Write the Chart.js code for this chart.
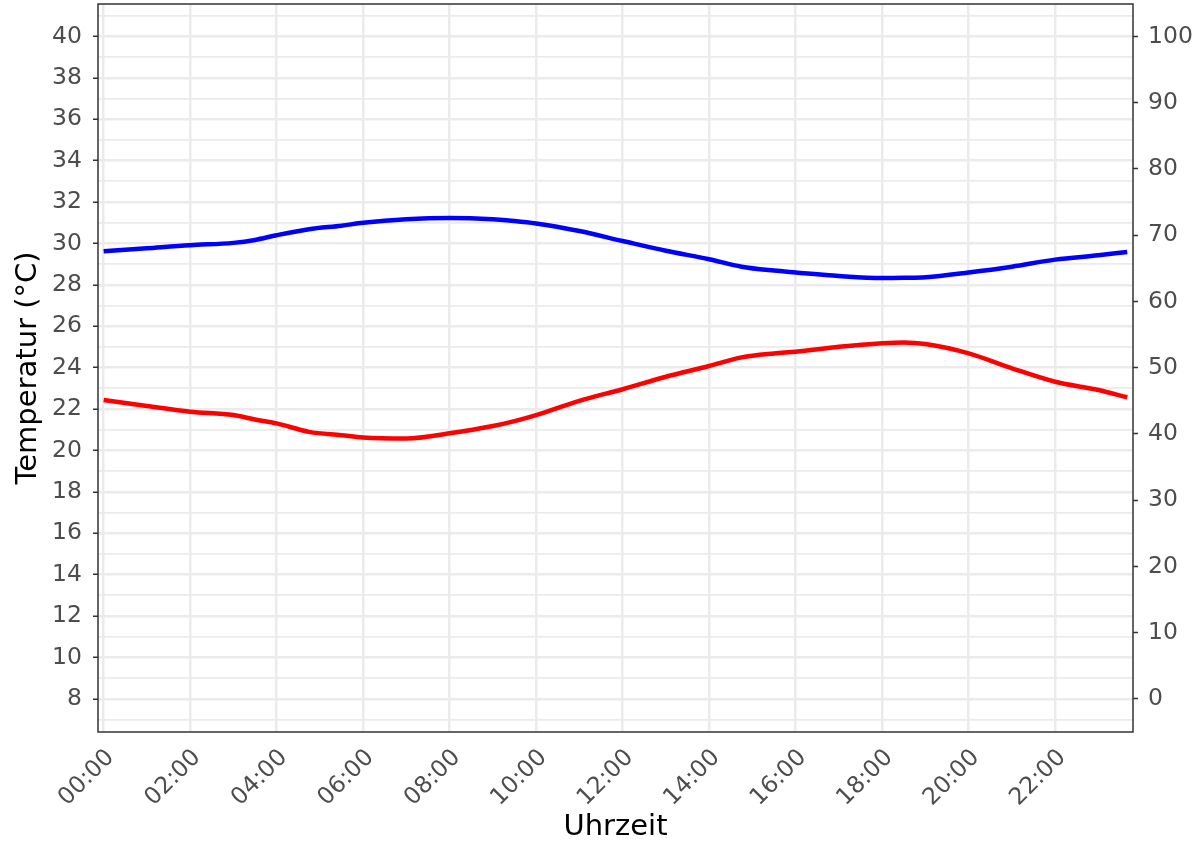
<!DOCTYPE html>
<html>
<head>
<meta charset="utf-8">
<script src="https://cdn.jsdelivr.net/npm/chart.js@4.4.1/dist/chart.umd.min.js"></script>
<style>
  html, body { margin: 0; padding: 0; background: #ffffff; }
  #wrap { width: 1195px; height: 846px; }
</style>
</head>
<body>
<div id="wrap"><canvas id="chart" width="1195" height="846"></canvas></div>
<script>
// Uhrzeit der Messpunkte
const times = [
  "00:00", "01:00", "02:00", "03:00", "03:30", "04:00", "04:45", "05:30",
  "06:00", "07:00", "08:00", "09:00", "09:30", "10:00", "11:00", "12:00",
  "13:00", "14:00", "14:45", "15:30", "16:00", "17:00", "18:00", "18:30",
  "19:00", "20:00", "21:00", "22:00", "23:00", "23:40"
];

// Temperatur (°C), blaue Kurve
const tempBlue = [
  29.62, 29.77, 29.92, 30.03, 30.17, 30.40, 30.69, 30.86,
  31.00, 31.17, 31.23, 31.17, 31.09, 30.97, 30.60, 30.12,
  29.65, 29.24, 28.88, 28.69, 28.60, 28.43, 28.33, 28.34,
  28.37, 28.60, 28.88, 29.22, 29.43, 29.59
];

// Temperatur (°C), rote Kurve
const tempRed = [
  22.44, 22.15, 21.87, 21.71, 21.50, 21.31, 20.90, 20.74,
  20.63, 20.58, 20.83, 21.18, 21.42, 21.71, 22.40, 22.96,
  23.56, 24.08, 24.50, 24.69, 24.77, 25.01, 25.18, 25.22,
  25.14, 24.69, 23.97, 23.32, 22.92, 22.57
];

// Achsen-Ticks
const hourTicks = [0, 2, 4, 6, 8, 10, 12, 14, 16, 18, 20, 22];
const tempTicks = [7, 8, 9, 10, 11, 12, 13, 14, 15, 16, 17, 18, 19, 20, 21, 22, 23, 24,
  25, 26, 27, 28, 29, 30, 31, 32, 33, 34, 35, 36, 37, 38, 39, 40, 41];
const rightTicks = [0, 10, 20, 30, 40, 50, 60, 70, 80, 90, 100];

const toHours = (t) => {
  const [h, m] = t.split(":").map(Number);
  return h + m / 60;
};
const fmtHour = (v) => String(v).padStart(2, "0") + ":00";
const asPoints = (values) => times.map((t, i) => ({ x: toHours(t), y: values[i] }));

Chart.defaults.font.family = "'DejaVu Sans', sans-serif";

const tickColor = "#4d4d4d";
const gridColor = "#ebebeb";

// keine automatische Label-Polsterung, damit die Plotfläche fest sitzt
const noPad = (scale) => {
  scale.paddingTop = 0;
  scale.paddingBottom = 0;
  scale.paddingLeft = 0;
  scale.paddingRight = 0;
};

// Rahmen um die Plotfläche
const frame = {
  id: "frame",
  afterDatasetsDraw(chart) {
    const { ctx, chartArea } = chart;
    ctx.save();
    ctx.strokeStyle = "#333333";
    ctx.lineWidth = 1.5;
    ctx.strokeRect(chartArea.left, chartArea.top,
      chartArea.right - chartArea.left, chartArea.bottom - chartArea.top);
    ctx.restore();
  },
};

new Chart(document.getElementById("chart").getContext("2d"), {
  type: "line",
  data: {
    datasets: [
      {
        label: "blau",
        data: asPoints(tempBlue),
        borderColor: "#0000ff",
        borderWidth: 4.5,
        pointRadius: 0,
        cubicInterpolationMode: "monotone",
        fill: false,
        yAxisID: "y",
      },
      {
        label: "rot",
        data: asPoints(tempRed),
        borderColor: "#ff0000",
        borderWidth: 4.5,
        pointRadius: 0,
        cubicInterpolationMode: "monotone",
        fill: false,
        yAxisID: "y",
      },
    ],
  },
  options: {
    responsive: false,
    animation: false,
    layout: { padding: { top: 4, left: 0, right: 0, bottom: 0 } },
    plugins: {
      legend: { display: false },
      tooltip: { enabled: false },
    },
    scales: {
      x: {
        type: "linear",
        min: -0.13,
        max: 23.8,
        afterBuildTicks: (scale) => {
          scale.ticks = hourTicks.map((v) => ({ value: v }));
        },
        afterFit: (scale) => {
          scale.height = 114;
          noPad(scale);
        },
        border: { display: false },
        grid: { color: gridColor, lineWidth: 2.5, drawTicks: false },
        ticks: {
          autoSkip: false,
          minRotation: 45,
          maxRotation: 45,
          padding: 12,
          labelOffset: 7,
          color: tickColor,
          font: { size: 23.5 },
          callback: (v) => fmtHour(v),
        },
        title: {
          display: true,
          text: "Uhrzeit",
          color: "#000000",
          font: { size: 29 },
          padding: { top: 0, bottom: 1 },
        },
      },
      y: {
        position: "left",
        min: 6.4,
        max: 41.57,
        afterBuildTicks: (scale) => {
          scale.ticks = tempTicks.map((v) => ({ value: v }));
        },
        afterFit: (scale) => {
          scale.width = 98;
          noPad(scale);
        },
        border: { display: false },
        grid: {
          color: gridColor,
          lineWidth: (c) => (c.tick && c.tick.value % 2 === 0 ? 2.5 : 1.8),
          tickColor: (c) => (c.tick && c.tick.value % 2 === 0 ? "#333333" : "rgba(0,0,0,0)"),
          tickLength: 5,
          tickWidth: 1.5,
        },
        ticks: {
          autoSkip: false,
          padding: 11,
          color: tickColor,
          font: { size: 23.5 },
          callback: (v) => (v % 2 === 0 ? String(v) : ""),
        },
        title: {
          display: true,
          text: "Temperatur (°C)",
          color: "#000000",
          font: { size: 29 },
          padding: { top: 11, bottom: 0 },
        },
      },
      y2: {
        position: "right",
        min: (6.4 - 8) / 0.32,
        max: (41.57 - 8) / 0.32,
        afterBuildTicks: (scale) => {
          scale.ticks = rightTicks.map((v) => ({ value: v }));
        },
        afterFit: (scale) => {
          scale.width = 62;
          noPad(scale);
        },
        border: { display: false },
        grid: {
          drawOnChartArea: false,
          tickColor: "#333333",
          tickLength: 5,
          tickWidth: 1.5,
        },
        ticks: {
          autoSkip: false,
          padding: 10,
          color: tickColor,
          font: { size: 23.5 },
        },
      },
    },
  },
  plugins: [frame],
});
</script>
</body>
</html>
